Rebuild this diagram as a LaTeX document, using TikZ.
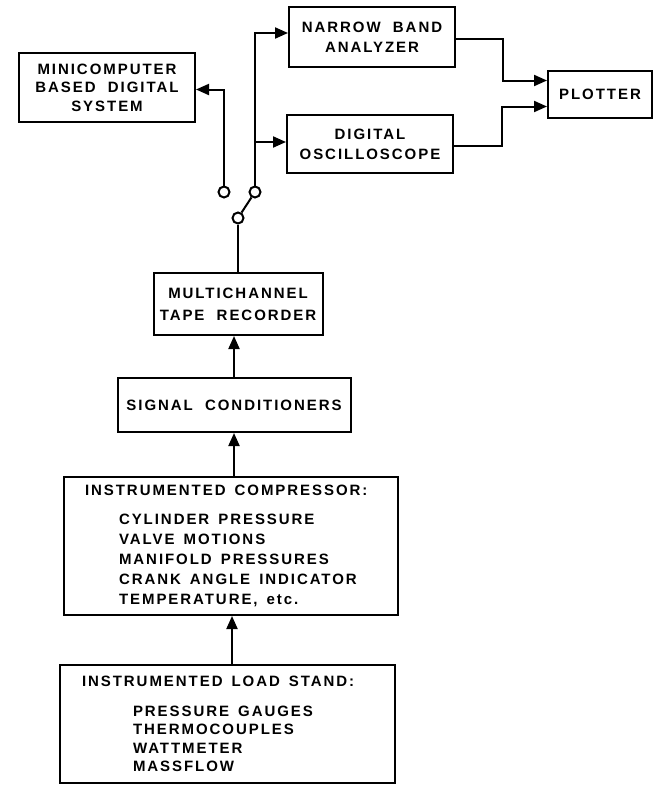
\documentclass[tikz,border=0pt]{standalone}
\usepackage{fontspec}
\setmainfont{Liberation Sans}[LetterSpace=13,WordSpace=2]
\usetikzlibrary{arrows.meta}
\begin{document}
\begin{tikzpicture}[x=1pt,y=-1pt,>={Triangle[length=13pt,width=11pt]},line width=2pt,
    blk/.style={draw,align=center,inner sep=0pt,font=\bfseries\fontsize{15}{20}\selectfont},
    lst/.style={blk,text width=310pt,align=left,execute at begin node={\spaceskip=0.6em\relax}},
    sw/.style={circle,draw,fill=white,minimum size=11pt,inner sep=0pt}]
\useasboundingbox (0,0) rectangle (655,787);
% top row
\node[blk,minimum width=176pt,minimum height=69pt,font=\bfseries\fontsize{15}{18.5}\selectfont] (mini) at (107,87.5) {MINICOMPUTER\\BASED DIGITAL\\SYSTEM};
\node[blk,minimum width=166pt,minimum height=60pt] (nba) at (372,37) {NARROW BAND\\ANALYZER};
\node[blk,minimum width=166pt,minimum height=58pt] (osc) at (370,144) {DIGITAL\\OSCILLOSCOPE};
\node[blk,minimum width=104pt,minimum height=47pt] (plot) at (600,94.5) {PLOTTER};
% switch
\node[sw] (swl) at (224,192) {};
\node[sw] (swr) at (255,192) {};
\node[sw] (swb) at (238,218) {};
\coordinate (br) at (255,142);
% chain
\node[blk,minimum width=169pt,minimum height=62pt,font=\bfseries\fontsize{15}{22}\selectfont] (mtr) at (238,304) {MULTICHANNEL\\TAPE RECORDER};
\node[blk,minimum width=233pt,minimum height=54pt] (sig) at (234,405) {SIGNAL CONDITIONERS};
\node[lst,minimum width=334pt,minimum height=138pt] (comp) at (231,546) {\hspace*{9pt}INSTRUMENTED COMPRESSOR:\\[9pt]
  \hspace*{43pt}CYLINDER PRESSURE\\
  \hspace*{43pt}VALVE MOTIONS\\
  \hspace*{43pt}MANIFOLD PRESSURES\\
  \hspace*{43pt}CRANK ANGLE INDICATOR\\
  \hspace*{43pt}TEMPERATURE, etc.};
\node[lst,minimum width=335pt,minimum height=118pt,font=\bfseries\fontsize{15}{18.5}\selectfont] (load) at (227.5,724) {\hspace*{9.5pt}INSTRUMENTED LOAD STAND:\\[11.5pt]
  \hspace*{60.5pt}PRESSURE GAUGES\\
  \hspace*{60.5pt}THERMOCOUPLES\\
  \hspace*{60.5pt}WATTMETER\\
  \hspace*{60.5pt}MASSFLOW};
% connectors
\draw[->] ([yshift=-2pt]nba.east) -- ++(47,0) |- ([yshift=14pt]plot.west);
\draw[->] ([yshift=-2pt]osc.east) -- ++(48,0) |- ([yshift=-12pt]plot.west);
\draw[->] (swl) |- ([yshift=-2pt]mini.east);
\draw[->] (swr) |- ([yshift=4pt]nba.west);
\draw[->] (br) -- (br -| osc.west);
\draw (swb) -- (swr);
\draw (swb) -- (swb |- mtr.north);
\draw[->] (sig.north) -- (sig.north |- mtr.south);
\draw[->] (sig.south |- comp.north) -- (sig.south);
\draw[->] (load.north -| 232,0) -- (comp.south -| 232,0);
\end{tikzpicture}
\end{document}
